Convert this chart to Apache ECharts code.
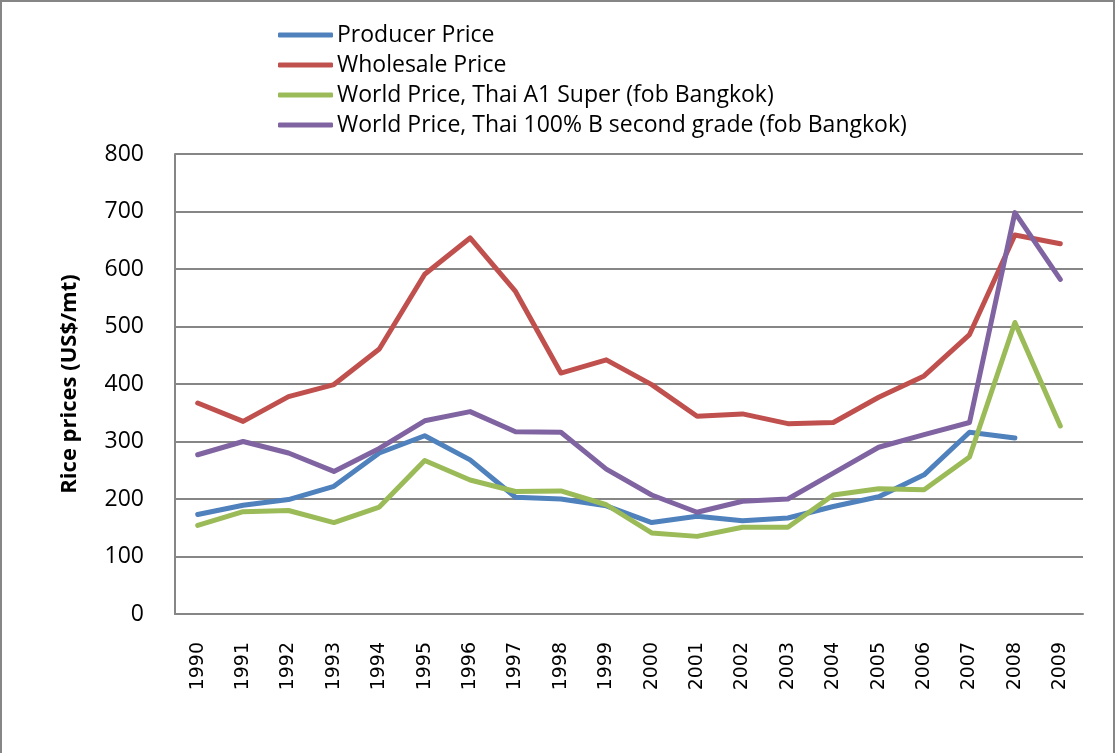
<!DOCTYPE html>
<html lang="en">
<head>
    <meta charset="UTF-8">
    <title>Rice prices</title>
    <script src="https://cdn.jsdelivr.net/npm/echarts@6/dist/echarts.min.js"></script>
    <style>
        html, body {
            margin: 0;
            border: 0;
            background: #fff;
        }

        #chart {
            width: 1116px;
            height: 753px;
        }
    </style>
</head>
<body>
<div id="chart"></div>
<script type="text/javascript">
    const years = ['1990', '1991', '1992', '1993', '1994', '1995', '1996', '1997', '1998', '1999',
        '2000', '2001', '2002', '2003', '2004', '2005', '2006', '2007', '2008', '2009'];

    const producerPrice = [173, 189, 199, 222, 280, 310, 268, 203, 200, 188,
        159, 170, 162, 167, 187, 204, 242, 316, 306, null];
    const wholesalePrice = [367, 335, 378, 399, 461, 591, 654, 561, 419, 442,
        399, 344, 348, 331, 333, 377, 414, 486, 659, 644];
    const thaiA1Super = [154, 178, 180, 159, 186, 267, 233, 213, 214, 190,
        141, 135, 151, 151, 207, 218, 216, 273, 507, 327];
    const thai100B = [277, 300, 280, 248, 288, 336, 352, 317, 316, 252,
        207, 177, 196, 200, 245, 290, 312, 333, 698, 582];

    const seriesNames = [
        'Producer Price',
        'Wholesale Price',
        'World Price, Thai A1 Super (fob Bangkok)',
        'World Price, Thai 100% B second grade (fob Bangkok)'
    ];
    const colors = ['#4F81BD', '#C0504D', '#9BBB59', '#8064A2'];

    const gridColor = '#868686';
    const textFont = '"Open Sans", sans-serif';

    function lineSeries(name, values, color) {
        return {
            name: name,
            type: 'line',
            data: values,
            showSymbol: false,
            symbol: 'none',
            animation: false,
            lineStyle: {color: color, width: 5, cap: 'round', join: 'round'},
            itemStyle: {color: color}
        };
    }

    window.onload = () => {
        const chart = echarts.init(document.querySelector('#chart'));
        const option = {
            backgroundColor: '#fff',
            animation: false,
            color: colors,
            graphic: [{
                type: 'rect',
                shape: {x: 1, y: 1, width: 1113, height: 770},
                style: {fill: 'none', stroke: gridColor, lineWidth: 2},
                silent: true
            }],
            legend: {
                orient: 'vertical',
                left: 273,
                top: 17,
                icon: 'roundRect',
                itemWidth: 55,
                itemHeight: 5,
                itemGap: 4,
                data: seriesNames,
                textStyle: {
                    fontFamily: textFont,
                    fontSize: 23,
                    color: '#000',
                    lineHeight: 26,
                    padding: [0, 0, 0, -1]
                }
            },
            grid: {
                left: 175,
                right: 33,
                top: 154,
                bottom: 139,
                containLabel: false
            },
            xAxis: {
                type: 'category',
                data: years,
                boundaryGap: true,
                axisLine: {lineStyle: {color: gridColor, width: 2}},
                axisTick: {show: false},
                axisLabel: {
                    rotate: 90,
                    margin: 28,
                    fontFamily: '"DejaVu Sans", sans-serif',
                    fontSize: 19,
                    color: '#000'
                }
            },
            yAxis: {
                type: 'value',
                min: 0,
                max: 800,
                interval: 100,
                name: 'Rice prices (US$/mt)',
                nameLocation: 'middle',
                nameGap: 94,
                nameTextStyle: {
                    fontFamily: textFont,
                    fontWeight: 'bold',
                    fontSize: 22,
                    color: '#000'
                },
                axisLine: {show: true, lineStyle: {color: gridColor, width: 2}},
                axisTick: {show: false},
                splitLine: {lineStyle: {color: gridColor, width: 2}},
                axisLabel: {
                    margin: 31,
                    fontFamily: textFont,
                    fontSize: 23,
                    color: '#000'
                }
            },
            series: [
                lineSeries(seriesNames[0], producerPrice, colors[0]),
                lineSeries(seriesNames[1], wholesalePrice, colors[1]),
                lineSeries(seriesNames[2], thaiA1Super, colors[2]),
                lineSeries(seriesNames[3], thai100B, colors[3])
            ]
        };
        chart.setOption(option, true);
    };
</script>
</body>
</html>
